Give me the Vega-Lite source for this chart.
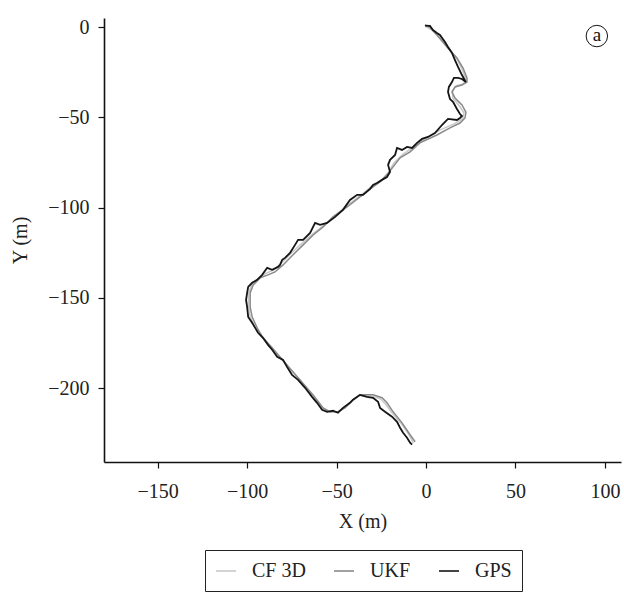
{
  "$schema": "https://vega.github.io/schema/vega-lite/v6.json",
  "autosize": {"type": "none"},
  "padding": {"left": 104, "top": 18, "right": 3, "bottom": 135},
  "width": 517,
  "height": 444,
  "background": "white",
  "config": {
    "view": {"stroke": null},
    "font": "Liberation Serif",
    "axis": {
      "grid": false,
      "domainColor": "#111",
      "domainWidth": 1.6,
      "tickColor": "#111",
      "tickWidth": 1.2,
      "tickSize": 6,
      "labelFont": "Liberation Serif",
      "labelFontSize": 20,
      "labelColor": "#222",
      "titleFont": "Liberation Serif",
      "titleFontSize": 20,
      "titleFontWeight": "normal",
      "titleColor": "#222"
    }
  },
  "datasets": {
    "track": [
      {"series": "CF 3D", "i": 1, "x": -0.5, "y": 0.5},
      {"series": "CF 3D", "i": 2, "x": 3, "y": -1.5},
      {"series": "CF 3D", "i": 3, "x": 8, "y": -6},
      {"series": "CF 3D", "i": 4, "x": 13, "y": -12},
      {"series": "CF 3D", "i": 5, "x": 17.5, "y": -18},
      {"series": "CF 3D", "i": 6, "x": 20.5, "y": -24},
      {"series": "CF 3D", "i": 7, "x": 22.3, "y": -29},
      {"series": "CF 3D", "i": 8, "x": 21, "y": -31.5},
      {"series": "CF 3D", "i": 9, "x": 17, "y": -32.5},
      {"series": "CF 3D", "i": 10, "x": 14.8, "y": -35.5},
      {"series": "CF 3D", "i": 11, "x": 15, "y": -39.5},
      {"series": "CF 3D", "i": 12, "x": 18.5, "y": -43.5},
      {"series": "CF 3D", "i": 13, "x": 21.2, "y": -47.5},
      {"series": "CF 3D", "i": 14, "x": 20.5, "y": -50.8},
      {"series": "CF 3D", "i": 15, "x": 16, "y": -53.5},
      {"series": "CF 3D", "i": 16, "x": 8, "y": -57},
      {"series": "CF 3D", "i": 17, "x": 0, "y": -61.5},
      {"series": "CF 3D", "i": 18, "x": -7, "y": -66.5},
      {"series": "CF 3D", "i": 19, "x": -13, "y": -70.5},
      {"series": "CF 3D", "i": 20, "x": -18, "y": -75.5},
      {"series": "CF 3D", "i": 21, "x": -21, "y": -80.5},
      {"series": "CF 3D", "i": 22, "x": -24.5, "y": -84.5},
      {"series": "CF 3D", "i": 23, "x": -30, "y": -88},
      {"series": "CF 3D", "i": 24, "x": -37, "y": -93.5},
      {"series": "CF 3D", "i": 25, "x": -44, "y": -99},
      {"series": "CF 3D", "i": 26, "x": -51, "y": -104.5},
      {"series": "CF 3D", "i": 27, "x": -57, "y": -109.8},
      {"series": "CF 3D", "i": 28, "x": -63, "y": -114.5},
      {"series": "CF 3D", "i": 29, "x": -69, "y": -119.5},
      {"series": "CF 3D", "i": 30, "x": -74.5, "y": -124.5},
      {"series": "CF 3D", "i": 31, "x": -80, "y": -130},
      {"series": "CF 3D", "i": 32, "x": -85, "y": -134.5},
      {"series": "CF 3D", "i": 33, "x": -89.5, "y": -136.5},
      {"series": "CF 3D", "i": 34, "x": -94, "y": -139.5},
      {"series": "CF 3D", "i": 35, "x": -97.5, "y": -143},
      {"series": "CF 3D", "i": 36, "x": -99.2, "y": -147.5},
      {"series": "CF 3D", "i": 37, "x": -99.3, "y": -154},
      {"series": "CF 3D", "i": 38, "x": -98.3, "y": -160.5},
      {"series": "CF 3D", "i": 39, "x": -95.5, "y": -166.5},
      {"series": "CF 3D", "i": 40, "x": -92, "y": -171.5},
      {"series": "CF 3D", "i": 41, "x": -87, "y": -177.5},
      {"series": "CF 3D", "i": 42, "x": -79, "y": -186},
      {"series": "CF 3D", "i": 43, "x": -71, "y": -195},
      {"series": "CF 3D", "i": 44, "x": -63.5, "y": -204},
      {"series": "CF 3D", "i": 45, "x": -58, "y": -211},
      {"series": "CF 3D", "i": 46, "x": -54, "y": -213},
      {"series": "CF 3D", "i": 47, "x": -49.5, "y": -213.2},
      {"series": "CF 3D", "i": 48, "x": -45.5, "y": -211},
      {"series": "CF 3D", "i": 49, "x": -41, "y": -207},
      {"series": "CF 3D", "i": 50, "x": -37, "y": -204},
      {"series": "CF 3D", "i": 51, "x": -30, "y": -204.5},
      {"series": "CF 3D", "i": 52, "x": -25.5, "y": -206},
      {"series": "CF 3D", "i": 53, "x": -22.5, "y": -209},
      {"series": "CF 3D", "i": 54, "x": -19, "y": -213.8},
      {"series": "CF 3D", "i": 55, "x": -14, "y": -219.5},
      {"series": "CF 3D", "i": 56, "x": -9.5, "y": -226},
      {"series": "CF 3D", "i": 57, "x": -7, "y": -230.5},

      {"series": "UKF", "i": 1, "x": -0.6, "y": 1.1},
      {"series": "UKF", "i": 2, "x": 2.2, "y": 0},
      {"series": "UKF", "i": 3, "x": 6.1, "y": -4.4},
      {"series": "UKF", "i": 4, "x": 11.7, "y": -11.1},
      {"series": "UKF", "i": 5, "x": 17.3, "y": -17.2},
      {"series": "UKF", "i": 6, "x": 20.7, "y": -22.7},
      {"series": "UKF", "i": 7, "x": 22.9, "y": -28.2},
      {"series": "UKF", "i": 8, "x": 22.9, "y": -30.5},
      {"series": "UKF", "i": 9, "x": 20.1, "y": -32.1},
      {"series": "UKF", "i": 10, "x": 16.2, "y": -33.2},
      {"series": "UKF", "i": 11, "x": 14.5, "y": -36.0},
      {"series": "UKF", "i": 12, "x": 16.2, "y": -39.3},
      {"series": "UKF", "i": 13, "x": 20.1, "y": -43.2},
      {"series": "UKF", "i": 14, "x": 22.3, "y": -47.1},
      {"series": "UKF", "i": 15, "x": 21.8, "y": -50.4},
      {"series": "UKF", "i": 16, "x": 19.0, "y": -53.2},
      {"series": "UKF", "i": 17, "x": 13.4, "y": -55.9},
      {"series": "UKF", "i": 18, "x": 6.1, "y": -59.8},
      {"series": "UKF", "i": 19, "x": -3.4, "y": -64.2},
      {"series": "UKF", "i": 20, "x": -8.9, "y": -69.2},
      {"series": "UKF", "i": 21, "x": -14.5, "y": -72.5},
      {"series": "UKF", "i": 22, "x": -18.4, "y": -77.5},
      {"series": "UKF", "i": 23, "x": -21.8, "y": -81.9},
      {"series": "UKF", "i": 24, "x": -25.7, "y": -85.8},
      {"series": "UKF", "i": 25, "x": -29.6, "y": -88.6},
      {"series": "UKF", "i": 26, "x": -36.9, "y": -94.1},
      {"series": "UKF", "i": 27, "x": -44.1, "y": -99.7},
      {"series": "UKF", "i": 28, "x": -52.0, "y": -105.2},
      {"series": "UKF", "i": 29, "x": -57.5, "y": -110.7},
      {"series": "UKF", "i": 30, "x": -63.1, "y": -115.2},
      {"series": "UKF", "i": 31, "x": -68.7, "y": -120.7},
      {"series": "UKF", "i": 32, "x": -74.3, "y": -126.2},
      {"series": "UKF", "i": 33, "x": -79.9, "y": -131.8},
      {"series": "UKF", "i": 34, "x": -84.4, "y": -135.7},
      {"series": "UKF", "i": 35, "x": -88.3, "y": -137.3},
      {"series": "UKF", "i": 36, "x": -92.7, "y": -139.0},
      {"series": "UKF", "i": 37, "x": -96.6, "y": -142.9},
      {"series": "UKF", "i": 38, "x": -98.3, "y": -147.3},
      {"series": "UKF", "i": 39, "x": -98.3, "y": -155.0},
      {"series": "UKF", "i": 40, "x": -97.2, "y": -160.6},
      {"series": "UKF", "i": 41, "x": -94.4, "y": -166.7},
      {"series": "UKF", "i": 42, "x": -91.1, "y": -172.2},
      {"series": "UKF", "i": 43, "x": -86.0, "y": -177.7},
      {"series": "UKF", "i": 44, "x": -77.7, "y": -187.2},
      {"series": "UKF", "i": 45, "x": -70.4, "y": -195.5},
      {"series": "UKF", "i": 46, "x": -63.1, "y": -203.8},
      {"series": "UKF", "i": 47, "x": -57.5, "y": -211.0},
      {"series": "UKF", "i": 48, "x": -53.6, "y": -213.2},
      {"series": "UKF", "i": 49, "x": -49.2, "y": -213.2},
      {"series": "UKF", "i": 50, "x": -45.3, "y": -211.0},
      {"series": "UKF", "i": 51, "x": -40.8, "y": -206.5},
      {"series": "UKF", "i": 52, "x": -36.9, "y": -203.8},
      {"series": "UKF", "i": 53, "x": -29.6, "y": -203.8},
      {"series": "UKF", "i": 54, "x": -24.6, "y": -205.4},
      {"series": "UKF", "i": 55, "x": -21.8, "y": -208.2},
      {"series": "UKF", "i": 56, "x": -18.4, "y": -213.2},
      {"series": "UKF", "i": 57, "x": -13.4, "y": -219.3},
      {"series": "UKF", "i": 58, "x": -8.9, "y": -225.9},
      {"series": "UKF", "i": 59, "x": -6.1, "y": -229.8},

      {"series": "GPS", "i": 1, "x": -0.5, "y": 0.8},
      {"series": "GPS", "i": 2, "x": 2.2, "y": 0.6},
      {"series": "GPS", "i": 3, "x": 3.9, "y": -1.7},
      {"series": "GPS", "i": 4, "x": 6.1, "y": -3.3},
      {"series": "GPS", "i": 5, "x": 7.8, "y": -4.4},
      {"series": "GPS", "i": 6, "x": 10.6, "y": -8.3},
      {"series": "GPS", "i": 7, "x": 12.3, "y": -11.1},
      {"series": "GPS", "i": 8, "x": 14.5, "y": -14.4},
      {"series": "GPS", "i": 9, "x": 16.2, "y": -18.3},
      {"series": "GPS", "i": 10, "x": 17.9, "y": -22.1},
      {"series": "GPS", "i": 11, "x": 20.1, "y": -26.6},
      {"series": "GPS", "i": 12, "x": 22.3, "y": -30.5},
      {"series": "GPS", "i": 13, "x": 20.1, "y": -28.8},
      {"series": "GPS", "i": 14, "x": 17.9, "y": -28.2},
      {"series": "GPS", "i": 15, "x": 15.6, "y": -28.2},
      {"series": "GPS", "i": 16, "x": 14.5, "y": -30.5},
      {"series": "GPS", "i": 17, "x": 12.8, "y": -33.2},
      {"series": "GPS", "i": 18, "x": 12.3, "y": -36.0},
      {"series": "GPS", "i": 19, "x": 13.4, "y": -39.9},
      {"series": "GPS", "i": 20, "x": 15.1, "y": -41.5},
      {"series": "GPS", "i": 21, "x": 17.3, "y": -45.4},
      {"series": "GPS", "i": 22, "x": 19.0, "y": -48.2},
      {"series": "GPS", "i": 23, "x": 20.1, "y": -49.3},
      {"series": "GPS", "i": 24, "x": 19.0, "y": -50.4},
      {"series": "GPS", "i": 25, "x": 17.3, "y": -51.5},
      {"series": "GPS", "i": 26, "x": 12.3, "y": -50.9},
      {"series": "GPS", "i": 27, "x": 8.9, "y": -54.3},
      {"series": "GPS", "i": 28, "x": 5.0, "y": -58.7},
      {"series": "GPS", "i": 29, "x": 1.1, "y": -60.9},
      {"series": "GPS", "i": 30, "x": -2.2, "y": -62.0},
      {"series": "GPS", "i": 31, "x": -5.0, "y": -64.2},
      {"series": "GPS", "i": 32, "x": -7.8, "y": -67.0},
      {"series": "GPS", "i": 33, "x": -10.6, "y": -66.4},
      {"series": "GPS", "i": 34, "x": -13.4, "y": -68.1},
      {"series": "GPS", "i": 35, "x": -16.2, "y": -67.0},
      {"series": "GPS", "i": 36, "x": -17.3, "y": -70.9},
      {"series": "GPS", "i": 37, "x": -20.1, "y": -73.6},
      {"series": "GPS", "i": 38, "x": -21.2, "y": -76.4},
      {"series": "GPS", "i": 39, "x": -20.1, "y": -80.3},
      {"series": "GPS", "i": 40, "x": -21.8, "y": -83.1},
      {"series": "GPS", "i": 41, "x": -24.6, "y": -84.7},
      {"series": "GPS", "i": 42, "x": -27.4, "y": -86.4},
      {"series": "GPS", "i": 43, "x": -29.6, "y": -87.5},
      {"series": "GPS", "i": 44, "x": -31.3, "y": -89.7},
      {"series": "GPS", "i": 45, "x": -35.2, "y": -93.0},
      {"series": "GPS", "i": 46, "x": -38.5, "y": -93.0},
      {"series": "GPS", "i": 47, "x": -42.5, "y": -95.8},
      {"series": "GPS", "i": 48, "x": -46.4, "y": -101.3},
      {"series": "GPS", "i": 49, "x": -50.8, "y": -105.2},
      {"series": "GPS", "i": 50, "x": -55.3, "y": -108.5},
      {"series": "GPS", "i": 51, "x": -59.2, "y": -109.6},
      {"series": "GPS", "i": 52, "x": -62.0, "y": -108.5},
      {"series": "GPS", "i": 53, "x": -64.8, "y": -114.1},
      {"series": "GPS", "i": 54, "x": -68.7, "y": -117.9},
      {"series": "GPS", "i": 55, "x": -71.5, "y": -117.9},
      {"series": "GPS", "i": 56, "x": -73.2, "y": -120.7},
      {"series": "GPS", "i": 57, "x": -76.0, "y": -125.1},
      {"series": "GPS", "i": 58, "x": -78.8, "y": -127.9},
      {"series": "GPS", "i": 59, "x": -80.4, "y": -129.0},
      {"series": "GPS", "i": 60, "x": -81.6, "y": -131.8},
      {"series": "GPS", "i": 61, "x": -82.7, "y": -132.9},
      {"series": "GPS", "i": 62, "x": -86.0, "y": -134.5},
      {"series": "GPS", "i": 63, "x": -88.8, "y": -133.4},
      {"series": "GPS", "i": 64, "x": -91.6, "y": -137.3},
      {"series": "GPS", "i": 65, "x": -94.4, "y": -140.1},
      {"series": "GPS", "i": 66, "x": -97.2, "y": -141.7},
      {"series": "GPS", "i": 67, "x": -99.4, "y": -144.0},
      {"series": "GPS", "i": 68, "x": -100.0, "y": -147.3},
      {"series": "GPS", "i": 69, "x": -100.6, "y": -151.2},
      {"series": "GPS", "i": 70, "x": -100.0, "y": -155.0},
      {"series": "GPS", "i": 71, "x": -99.4, "y": -160.6},
      {"series": "GPS", "i": 72, "x": -97.2, "y": -163.9},
      {"series": "GPS", "i": 73, "x": -95.5, "y": -166.7},
      {"series": "GPS", "i": 74, "x": -93.9, "y": -169.4},
      {"series": "GPS", "i": 75, "x": -91.1, "y": -172.2},
      {"series": "GPS", "i": 76, "x": -88.3, "y": -176.1},
      {"series": "GPS", "i": 77, "x": -86.0, "y": -178.8},
      {"series": "GPS", "i": 78, "x": -83.2, "y": -182.7},
      {"series": "GPS", "i": 79, "x": -79.9, "y": -184.4},
      {"series": "GPS", "i": 80, "x": -77.7, "y": -188.3},
      {"series": "GPS", "i": 81, "x": -74.9, "y": -192.7},
      {"series": "GPS", "i": 82, "x": -71.5, "y": -195.5},
      {"series": "GPS", "i": 83, "x": -67.6, "y": -199.9},
      {"series": "GPS", "i": 84, "x": -63.7, "y": -204.9},
      {"series": "GPS", "i": 85, "x": -60.9, "y": -208.2},
      {"series": "GPS", "i": 86, "x": -58.1, "y": -212.1},
      {"series": "GPS", "i": 87, "x": -55.3, "y": -213.2},
      {"series": "GPS", "i": 88, "x": -52.0, "y": -212.6},
      {"series": "GPS", "i": 89, "x": -49.2, "y": -213.7},
      {"series": "GPS", "i": 90, "x": -46.4, "y": -211.0},
      {"series": "GPS", "i": 91, "x": -42.5, "y": -208.2},
      {"series": "GPS", "i": 92, "x": -40.8, "y": -206.5},
      {"series": "GPS", "i": 93, "x": -36.9, "y": -203.8},
      {"series": "GPS", "i": 94, "x": -33.0, "y": -204.9},
      {"series": "GPS", "i": 95, "x": -29.6, "y": -205.4},
      {"series": "GPS", "i": 96, "x": -26.8, "y": -207.6},
      {"series": "GPS", "i": 97, "x": -25.7, "y": -211.0},
      {"series": "GPS", "i": 98, "x": -22.9, "y": -213.2},
      {"series": "GPS", "i": 99, "x": -19.0, "y": -215.9},
      {"series": "GPS", "i": 100, "x": -16.2, "y": -218.7},
      {"series": "GPS", "i": 101, "x": -14.5, "y": -222.0},
      {"series": "GPS", "i": 102, "x": -12.8, "y": -224.8},
      {"series": "GPS", "i": 103, "x": -10.6, "y": -227.6},
      {"series": "GPS", "i": 104, "x": -8.9, "y": -230.3},
      {"series": "GPS", "i": 105, "x": -7.8, "y": -231.4}
    ],
    "marker": [
      {"x": 95.5, "y": -5, "label": "a"}
    ]
  },
  "encoding": {
    "x": {
      "field": "x",
      "type": "quantitative",
      "title": "X (m)",
      "scale": {"domain": [-180, 109], "nice": false, "zero": false},
      "axis": {"values": [-150, -100, -50, 0, 50, 100], "labelPadding": 13, "titlePadding": 10}
    },
    "y": {
      "field": "y",
      "type": "quantitative",
      "title": "Y (m)",
      "scale": {"domain": [-241, 5], "nice": false, "zero": false},
      "axis": {"values": [-200, -150, -100, -50, 0], "labelPadding": 9, "titlePadding": 17}
    }
  },
  "layer": [
    {
      "data": {"name": "track"},
      "transform": [{"filter": "datum.series === 'CF 3D'"}],
      "mark": {"type": "line", "strokeWidth": 1.5},
      "encoding": {
        "order": {"field": "i", "type": "quantitative"},
        "color": {
          "field": "series",
          "type": "nominal",
          "scale": {"domain": ["CF 3D", "UKF", "GPS"], "range": ["#c8c8c8", "#8a8a8a", "#151515"]},
          "legend": {
            "title": null,
            "orient": "none",
            "direction": "horizontal",
            "legendX": 101,
            "legendY": 532,
            "strokeColor": "#222",
            "padding": 10,
            "columnPadding": 24,
            "symbolType": "stroke",
            "symbolSize": 400,
            "symbolStrokeWidth": 1.6,
            "labelFont": "Liberation Serif",
            "labelFontSize": 20,
            "labelColor": "#222",
            "labelOffset": 15
          }
        }
      }
    },
    {
      "data": {"name": "track"},
      "transform": [{"filter": "datum.series === 'UKF'"}],
      "mark": {"type": "line", "strokeWidth": 1.5},
      "encoding": {
        "order": {"field": "i", "type": "quantitative"},
        "color": {"field": "series", "type": "nominal"}
      }
    },
    {
      "data": {"name": "track"},
      "transform": [{"filter": "datum.series === 'GPS'"}],
      "mark": {"type": "line", "strokeWidth": 1.8},
      "encoding": {
        "order": {"field": "i", "type": "quantitative"},
        "color": {"field": "series", "type": "nominal"}
      }
    },
    {
      "data": {"name": "marker"},
      "mark": {"type": "point", "shape": "circle", "filled": false, "size": 460, "stroke": "#111", "strokeWidth": 1, "opacity": 1}
    },
    {
      "data": {"name": "marker"},
      "mark": {"type": "text", "font": "Liberation Serif", "fontSize": 19, "color": "#111", "baseline": "middle", "dy": -1},
      "encoding": {"text": {"field": "label"}}
    }
  ]
}
